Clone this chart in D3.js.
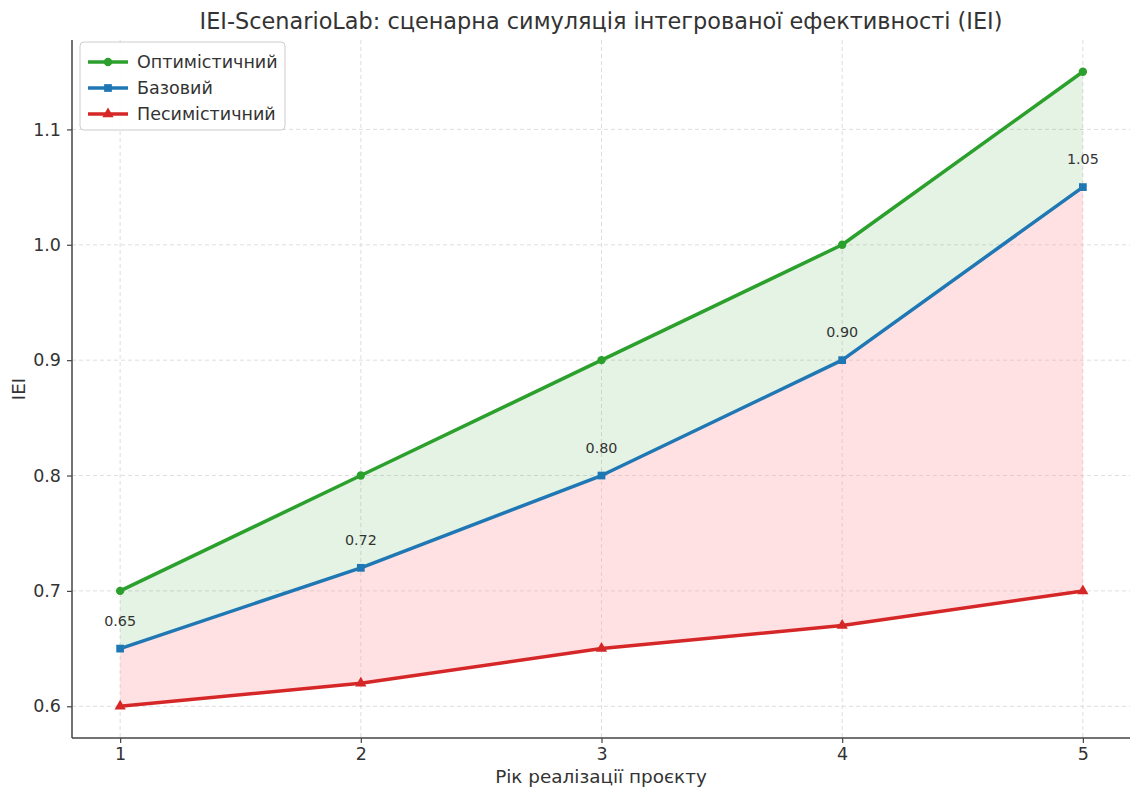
<!DOCTYPE html>
<html>
<head>
<meta charset="utf-8">
<script src="https://cdn.jsdelivr.net/npm/d3@7"></script>
<style>
  body { margin: 0; background: #fff; }
  svg text { font-family: "DejaVu Sans", sans-serif; fill: #333; }
</style>
</head>
<body>
<svg id="chart" width="1130" height="789"></svg>
<script>
// Years of project implementation
const years = [1, 2, 3, 4, 5];
// IEI per scenario
const optimistic = [0.70, 0.80, 0.90, 1.00, 1.15];
const baseline = [0.65, 0.72, 0.80, 0.90, 1.05];
const pessimistic = [0.60, 0.62, 0.65, 0.67, 0.70];
const yTicks = [0.6, 0.7, 0.8, 0.9, 1.0, 1.1];
const seriesNames = ["Оптимістичний", "Базовий", "Песимістичний"];

const svg = d3.select("#chart");
const m = { left: 72, right: -1, top: 40, bottom: 51 };
const W = 1130, H = 789;

const x = d3.scaleLinear().domain([0.8, 5.2]).range([m.left, W - m.right]);
const y = d3.scaleLinear().domain([0.5725, 1.1775]).range([H - m.bottom, m.top]);

// grid
const grid = svg.append("g");
grid.selectAll(".gx").data(years).join("line")
  .attr("x1", d => x(d)).attr("x2", d => x(d))
  .attr("y1", m.top).attr("y2", H - m.bottom)
  .attr("stroke", "#d5d5d5").attr("stroke-dasharray", "4,3").attr("stroke-width", 0.8);
grid.selectAll(".gy").data(yTicks).join("line")
  .attr("x1", m.left).attr("x2", W)
  .attr("y1", d => y(d)).attr("y2", d => y(d))
  .attr("stroke", "#d5d5d5").attr("stroke-dasharray", "4,3").attr("stroke-width", 0.8);

// bands
const band = (hi, lo) => d3.area()
  .x((d, i) => x(years[i]))
  .y0((d, i) => y(lo[i]))
  .y1((d, i) => y(hi[i]));
svg.append("path").datum(years).attr("d", band(optimistic, baseline))
  .attr("fill", "#2ca02c").attr("fill-opacity", 0.13);
svg.append("path").datum(years).attr("d", band(baseline, pessimistic))
  .attr("fill", "#ff9da6").attr("fill-opacity", 0.3);

// axes
const xAxis = d3.axisBottom(x).tickValues(years).tickFormat(d3.format("d")).tickSize(5).tickPadding(5);
const yAxis = d3.axisLeft(y).tickValues(yTicks).tickFormat(d3.format(".1f")).tickSize(5).tickPadding(6);
const gx = svg.append("g").attr("transform", `translate(0,${H - m.bottom})`).call(xAxis);
const gy = svg.append("g").attr("transform", `translate(${m.left},0)`).call(yAxis);
[gx, gy].forEach(g => {
  g.selectAll(".domain").attr("stroke", "#444").attr("stroke-width", 1.5);
  g.selectAll(".tick line").attr("stroke", "#444").attr("stroke-width", 1.2);
  g.selectAll(".tick text").attr("font-size", 17.5).attr("fill", "#333");
});
gx.select(".domain").attr("d", `M${m.left},0H${W}`);
gy.select(".domain").attr("d", `M0,${m.top}V${H - m.bottom}`);

// lines & markers
const series = [
  { name: seriesNames[0], vals: optimistic, color: "#2ca02c", sym: d3.symbolCircle, size: 55 },
  { name: seriesNames[1], vals: baseline, color: "#1f77b4", sym: d3.symbolSquare, size: 60 },
  { name: seriesNames[2], vals: pessimistic, color: "#d62728", sym: d3.symbolTriangle, size: 55 }
];
const line = d3.line().x((d, i) => x(years[i])).y(d => y(d));
series.forEach(s => {
  svg.append("path").datum(s.vals).attr("d", line)
    .attr("fill", "none").attr("stroke", s.color).attr("stroke-width", 3.5)
    .attr("stroke-linejoin", "round");
  svg.selectAll(null).data(s.vals).join("path")
    .attr("d", d3.symbol().type(s.sym).size(s.size))
    .attr("transform", (d, i) => `translate(${x(years[i])},${y(d)})`)
    .attr("fill", s.color);
});

// value labels on baseline
svg.selectAll(null).data(baseline).join("text")
  .attr("x", (d, i) => x(years[i])).attr("y", d => y(d) - 23)
  .attr("text-anchor", "middle").attr("font-size", 14.3)
  .text(d => d.toFixed(2));

// title and axis labels
svg.append("text").attr("x", 601).attr("y", 29).attr("text-anchor", "middle")
  .attr("font-size", 22.4).text("IEI-ScenarioLab: сценарна симуляція інтегрованої ефективності (IEI)");
svg.append("text").attr("x", 601).attr("y", 783).attr("text-anchor", "middle")
  .attr("font-size", 18.4).text("Рік реалізації проєкту");
svg.append("text").attr("transform", `translate(25,${y(0.875)}) rotate(-90)`)
  .attr("text-anchor", "middle").attr("font-size", 18.4).text("IEI");

// legend
const lg = svg.append("g").attr("transform", "translate(80,42)");
lg.append("rect").attr("width", 205).attr("height", 88).attr("rx", 4)
  .attr("fill", "#fff").attr("fill-opacity", 0.85).attr("stroke", "#ccc");
series.forEach((s, i) => {
  const yy = 20 + i * 26;
  lg.append("line").attr("x1", 8).attr("x2", 48).attr("y1", yy).attr("y2", yy)
    .attr("stroke", s.color).attr("stroke-width", 3.5);
  lg.append("path").attr("d", d3.symbol().type(s.sym).size(s.size))
    .attr("transform", `translate(28,${yy})`).attr("fill", s.color);
  lg.append("text").attr("x", 57).attr("y", yy + 6).attr("font-size", 17.5).text(s.name);
});
</script>
</body>
</html>
